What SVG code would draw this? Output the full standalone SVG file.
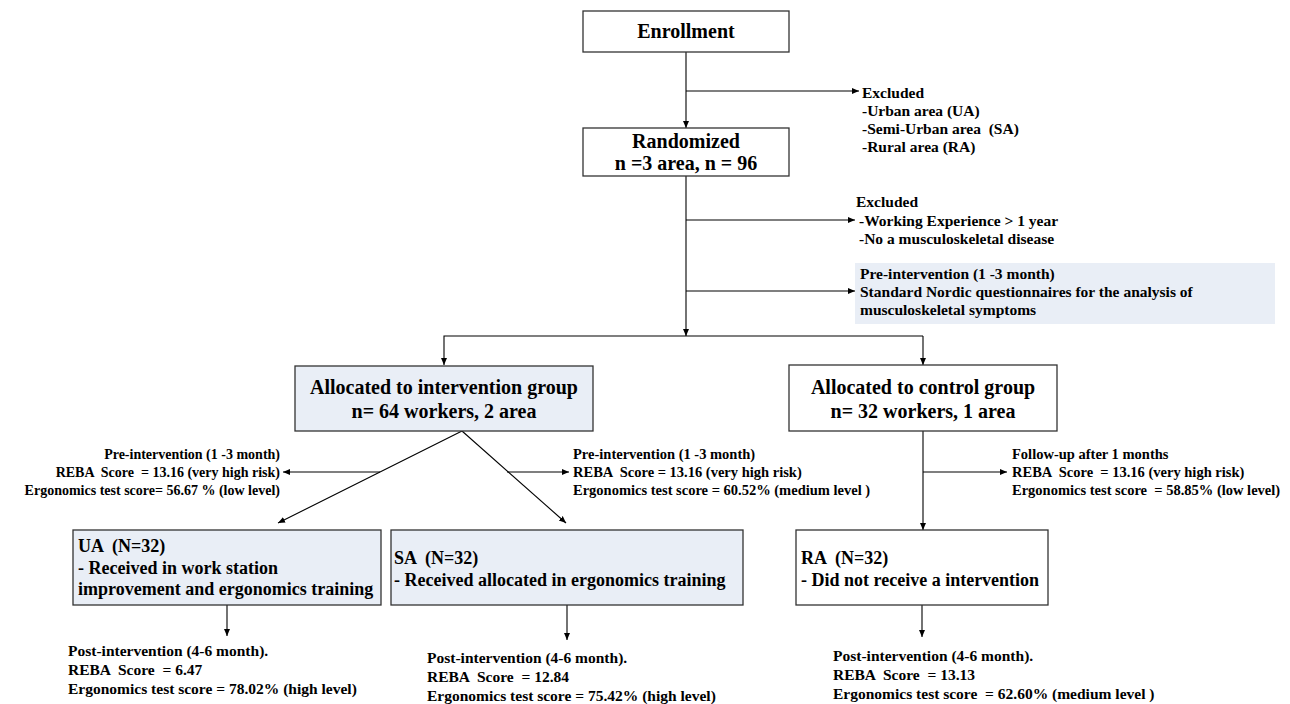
<svg xmlns="http://www.w3.org/2000/svg" width="1290" height="704" viewBox="0 0 1290 704">
<defs>
<marker id="ah" markerWidth="8" markerHeight="8" refX="7" refY="4" orient="auto" markerUnits="userSpaceOnUse">
<path d="M0,1 L7,4 L0,7 Z" fill="#000"/>
</marker>
<style>
.box{fill:#fff;stroke:#333;stroke-width:1.3}
.sh{fill:#e9eef6;stroke:#333;stroke-width:1.3}
.nb{fill:#e9eef6;stroke:none}
.ln{fill:none;stroke:#000;stroke-width:1.1;marker-end:url(#ah)}
.pl{fill:none;stroke:#000;stroke-width:1.1}
text{font-family:"Liberation Serif","Times New Roman",serif;font-weight:bold;fill:#000;white-space:pre}
.t20{font-size:20px}
.t18{font-size:18px}
.t155{font-size:15.5px}
.t145{font-size:14.5px}
.t14{font-size:14px}
</style>
</defs>
<rect width="1290" height="704" fill="#fff"/>
<g id="connectors">
<line class="ln" x1="686" y1="52" x2="686" y2="128"/>
<line class="ln" x1="686" y1="91" x2="859" y2="91"/>
<line class="ln" x1="686" y1="176" x2="686" y2="336"/>
<line class="ln" x1="686" y1="220" x2="855" y2="220"/>
<line class="ln" x1="686" y1="291" x2="855" y2="291"/>
<polyline class="ln" points="923,336 444,336 444,365"/>
<line class="ln" x1="923" y1="336" x2="923" y2="365"/>
<line class="ln" x1="462" y1="431" x2="278" y2="523"/>
<line class="ln" x1="462" y1="431" x2="566" y2="523"/>
<line class="ln" x1="380" y1="472" x2="283" y2="472"/>
<line class="ln" x1="507" y1="472" x2="569" y2="472"/>
<line class="ln" x1="923" y1="431" x2="923" y2="530"/>
<line class="ln" x1="923" y1="472" x2="1007" y2="472"/>
<line class="ln" x1="227" y1="605" x2="227" y2="636"/>
<line class="ln" x1="567" y1="605" x2="567" y2="640"/>
<line class="ln" x1="922" y1="605" x2="922" y2="637"/>
</g>
<g id="enrollment">
<rect class="box" x="583" y="11" width="206" height="41"/>
<text class="t20" x="686" y="38" text-anchor="middle">Enrollment</text>
</g>
<g id="excluded1">
<text class="t155" x="862" y="98">Excluded</text>
<text class="t155" x="862" y="116">-Urban area (UA)</text>
<text class="t155" x="862" y="134">-Semi-Urban area  (SA)</text>
<text class="t155" x="862" y="152">-Rural area (RA)</text>
</g>
<g id="randomized">
<rect class="box" x="583" y="128" width="206" height="48"/>
<text class="t20" x="686" y="148" text-anchor="middle">Randomized</text>
<text class="t20" x="686" y="170" text-anchor="middle">n =3 area, n = 96</text>
</g>
<g id="excluded2">
<text class="t155" x="856" y="207">Excluded</text>
<text class="t155" x="859" y="226">-Working Experience &gt; 1 year</text>
<text class="t155" x="859" y="244">-No a musculoskeletal disease</text>
</g>
<g id="pre-nordic">
<rect class="nb" x="855" y="263" width="420" height="61"/>
<text class="t155" x="860" y="279">Pre-intervention (1 -3 month)</text>
<text class="t155" x="860" y="297">Standard Nordic questionnaires for the analysis of</text>
<text class="t155" x="860" y="315">musculoskeletal symptoms</text>
</g>
<g id="intervention">
<rect class="sh" x="295" y="366" width="298" height="65"/>
<text class="t20" x="444" y="394" text-anchor="middle">Allocated to intervention group</text>
<text class="t20" x="444" y="418" text-anchor="middle">n= 64 workers, 2 area</text>
</g>
<g id="control">
<rect class="box" x="789" y="365" width="268" height="66"/>
<text class="t20" x="923" y="394" text-anchor="middle">Allocated to control group</text>
<text class="t20" x="923" y="418" text-anchor="middle">n= 32 workers, 1 area</text>
</g>
<g id="pre-ua">
<text class="t14" x="280" y="459" text-anchor="end">Pre-intervention (1 -3 month)</text>
<text class="t14" x="280" y="477" text-anchor="end">REBA  Score  = 13.16 (very high risk)</text>
<text class="t14" x="280" y="495" text-anchor="end">Ergonomics test score= 56.67 % (low level)</text>
</g>
<g id="pre-sa">
<text class="t145" x="573" y="459">Pre-intervention (1 -3 month)</text>
<text class="t145" x="573" y="477">REBA  Score = 13.16 (very high risk)</text>
<text class="t145" x="573" y="495">Ergonomics test score = 60.52% (medium level )</text>
</g>
<g id="followup">
<text class="t145" x="1012" y="459">Follow-up after 1 months</text>
<text class="t145" x="1012" y="477">REBA  Score  = 13.16 (very high risk)</text>
<text class="t145" x="1012" y="495">Ergonomics test score  = 58.85% (low level)</text>
</g>
<g id="ua">
<rect class="sh" x="73" y="530" width="308" height="75"/>
<text class="t18" x="78" y="552">UA  (N=32)</text>
<text class="t18" x="78" y="574">- Received in work station</text>
<text class="t18" x="78" y="595">improvement and ergonomics training</text>
</g>
<g id="sa">
<rect class="sh" x="391" y="530" width="352" height="75"/>
<text class="t18" x="394" y="564">SA  (N=32)</text>
<text class="t18" x="394" y="586">- Received allocated in ergonomics training</text>
</g>
<g id="ra">
<rect class="box" x="796" y="530" width="252" height="75"/>
<text class="t18" x="801" y="564">RA  (N=32)</text>
<text class="t18" x="801" y="586">- Did not receive a intervention</text>
</g>
<g id="post-ua">
<text class="t155" x="68" y="656">Post-intervention (4-6 month).</text>
<text class="t155" x="68" y="675">REBA  Score  = 6.47</text>
<text class="t155" x="68" y="694">Ergonomics test score = 78.02% (high level)</text>
</g>
<g id="post-sa">
<text class="t155" x="427" y="663">Post-intervention (4-6 month).</text>
<text class="t155" x="427" y="682">REBA  Score  = 12.84</text>
<text class="t155" x="427" y="701">Ergonomics test score = 75.42% (high level)</text>
</g>
<g id="post-ra">
<text class="t155" x="833" y="661">Post-intervention (4-6 month).</text>
<text class="t155" x="833" y="680">REBA  Score  = 13.13</text>
<text class="t155" x="833" y="699">Ergonomics test score  = 62.60% (medium level )</text>
</g>
</svg>
